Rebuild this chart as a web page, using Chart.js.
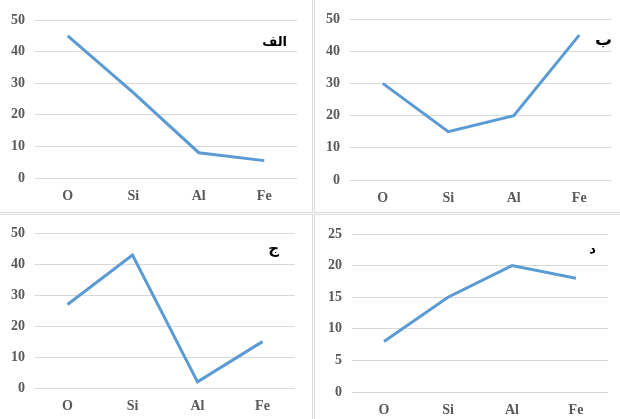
<!DOCTYPE html>
<html>
<head>
<meta charset="utf-8">
<script src="https://cdn.jsdelivr.net/npm/chart.js@4.4.1/dist/chart.umd.min.js"></script>
<style>
  body { margin: 0; width: 620px; height: 419px; overflow: hidden; background: #fff; position: relative; }
  .box { position: absolute; box-sizing: border-box; border: 1px solid #d9d9d9; }
  canvas { position: absolute; }
  .lbl { position: absolute; font-family: "DejaVu Sans", sans-serif; font-weight: bold; font-size: 13px; color: #000; line-height: 1; }
</style>
</head>
<body>
<div class="box" style="left:-1px;top:-1px;width:314px;height:214px"></div>
<div class="box" style="left:314px;top:-1px;width:310px;height:214px"></div>
<div class="box" style="left:-1px;top:214px;width:314px;height:210px"></div>
<div class="box" style="left:314px;top:214px;width:310px;height:210px"></div>

<canvas id="c1" width="312" height="212" style="left:0;top:0"></canvas>
<canvas id="c2" width="305" height="212" style="left:315px;top:0"></canvas>
<canvas id="c3" width="312" height="204" style="left:0;top:215px"></canvas>
<canvas id="c4" width="305" height="204" style="left:315px;top:215px"></canvas>

<div class="lbl" dir="rtl" style="right:333px;top:35px">الف</div>
<div class="lbl" dir="rtl" style="right:8px;top:31px;font-size:17px">ب</div>
<div class="lbl" dir="rtl" style="right:341px;top:241px;font-size:15px">ج</div>
<div class="lbl" dir="rtl" style="right:24px;top:242px">د</div>

<script>
// elements on the x axis
const elements = ['O', 'Si', 'Al', 'Fe'];

// one series per panel
const seriesAlef = [45, 27, 8, 5.5];
const seriesBe = [30, 15, 20, 45];
const seriesJim = [27, 43, 2, 15];
const seriesDal = [8, 15, 20, 18];

// y axis max and step for each panel
const yMax = [50, 50, 50, 25];
const yStep = [10, 10, 10, 5];

const textColor = '#595959';
const gridColor = '#d9d9d9';
const lineColor = '#5b9bd5';
const tickFont = { family: 'Liberation Serif', size: 14, weight: 'bold' };

function makeChart(id, data, max, step, pad, yWidth, xHeight) {
  const ctx = document.getElementById(id).getContext('2d');
  return new Chart(ctx, {
    type: 'line',
    data: {
      labels: elements,
      datasets: [{
        data: data,
        borderColor: lineColor,
        borderWidth: 3,
        pointRadius: 0,
        tension: 0,
        fill: false
      }]
    },
    options: {
      responsive: false,
      animation: false,
      layout: { padding: pad },
      plugins: { legend: { display: false }, tooltip: { enabled: false } },
      scales: {
        x: {
          offset: true,
          grid: { display: false, drawTicks: false },
          border: { display: false },
          ticks: { color: textColor, padding: 10, font: tickFont },
          afterFit: (scale) => { scale.height = xHeight; }
        },
        y: {
          min: 0,
          max: max,
          grid: { color: gridColor, drawTicks: false },
          border: { display: false },
          ticks: { stepSize: step, color: textColor, padding: 10, font: tickFont },
          afterFit: (scale) => { scale.width = yWidth; }
        }
      }
    }
  });
}

makeChart('c1', seriesAlef, yMax[0], yStep[0], { top: 20, right: 15, bottom: 4, left: 0 }, 35, 30);
makeChart('c2', seriesBe, yMax[1], yStep[1], { top: 19, right: 8, bottom: 2, left: 0 }, 35, 30);
makeChart('c3', seriesJim, yMax[2], yStep[2], { top: 16, right: 17, bottom: 1, left: 0 }, 35, 30);
makeChart('c4', seriesDal, yMax[3], yStep[3], { top: 19, right: 12, bottom: 0, left: 0 }, 37, 27);
</script>
</body>
</html>
